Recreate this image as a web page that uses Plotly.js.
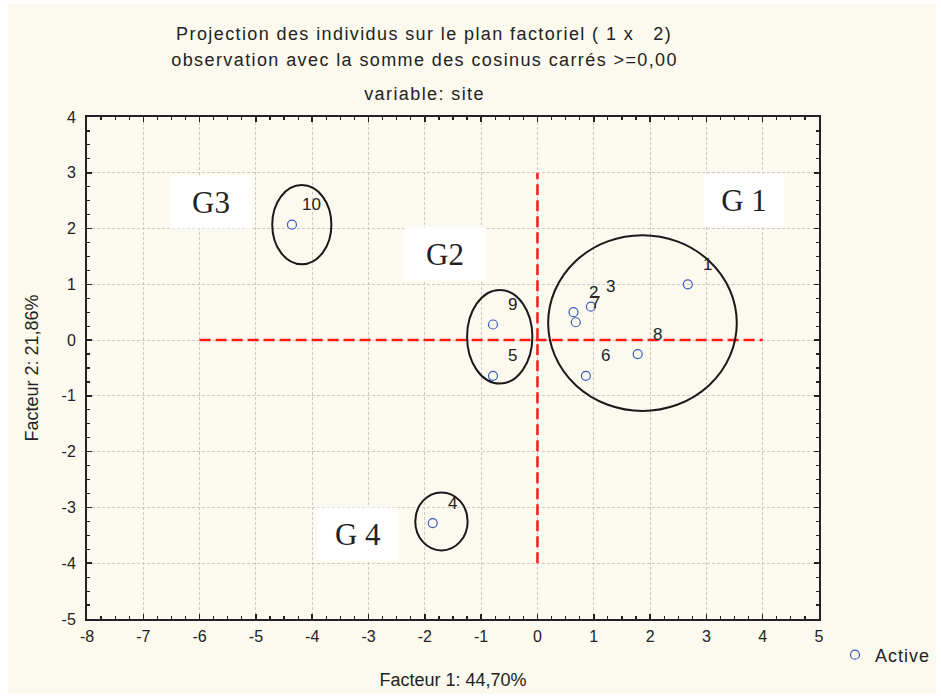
<!DOCTYPE html>
<html><head><meta charset="utf-8">
<script src="https://cdn.plot.ly/plotly-3.0.1.min.js"></script>
<style>
html,body{margin:0;padding:0;background:#fff}#chart{width:941px;height:698px}
.annotation[data-index="0"] text,.annotation[data-index="1"] text,.annotation[data-index="2"] text{letter-spacing:1.4px}
.legendtext{letter-spacing:1px}
</style>
</head><body><div id="chart"></div>
<script>
// ---- data ----
const pointIds = ['1','2','3','4','5','6','7','8','9','10'];
const factor1 = [2.67, 0.64, 0.95, -1.86, -0.79, 0.86, 0.68, 1.78, -0.79, -4.36];
const factor2 = [1.00, 0.50, 0.60, -3.28, -0.64, -0.64, 0.32, -0.25, 0.28, 2.07];

const groupNames  = ['G 1', 'G2', 'G3', 'G 4'];
const groupLabelX = [3.67, -1.65, -5.79, -3.18];
const groupLabelY = [2.52, 1.55, 2.48, -3.47];
const groupX0 = [0.19, -1.25, -4.71, -2.17];
const groupX1 = [3.54, -0.09, -3.66, -1.24];
const groupY0 = [-1.27, -0.78, 1.36, -3.77];
const groupY1 = [1.88, 0.90, 2.78, -2.73];

const refHorizX = [-6, 4];
const refVertY = [-4, 3];

const xTicks = [-8,-7,-6,-5,-4,-3,-2,-1,0,1,2,3,4,5];
const yTicks = [-5,-4,-3,-2,-1,0,1,2,3,4];

const titleLines = [
  'Projection des individus sur le plan factoriel ( 1 x   2)',
  'observation avec la somme des cosinus carrés >=0,00',
  'variable: site'
];
const xTitle = 'Facteur 1: 44,70%';
const yTitle = 'Facteur 2: 21,86%';

// ---- chart ----
const FONT = 'Liberation Sans, Arial, sans-serif';
const SERIF = 'Liberation Serif, Times New Roman, serif';
const INK = '#222';

const traces = [{
  x: factor1, y: factor2, type: 'scatter', mode: 'markers', name: 'Active',
  marker: {symbol: 'circle-open', size: 9, color: '#3d5cc0', line: {width: 1.2, color: '#3d5cc0'}},
  hoverinfo: 'skip'
}];

const shapes = [];
// cream card
shapes.push({type:'rect', xref:'paper', yref:'paper', layer:'below',
  x0: (8-87)/732, x1: (936-87)/732, y0: (619-694)/502, y1: (619-4)/502,
  fillcolor:'#fcf9ee', line:{width:0}});
// reference dashed lines
shapes.push({type:'line', xref:'x', yref:'y', x0: refHorizX[0], x1: refHorizX[1], y0: 0, y1: 0,
  line:{color:'#ff1a1a', width:2.5, dash:'11px,5px'}});
shapes.push({type:'line', xref:'x', yref:'y', x0: 0, x1: 0, y0: refVertY[0], y1: refVertY[1],
  line:{color:'#ff1a1a', width:2.5, dash:'11px,5px'}});
// group ellipses
for (let i = 0; i < groupNames.length; i++) {
  shapes.push({type:'circle', xref:'x', yref:'y', x0: groupX0[i], x1: groupX1[i], y0: groupY0[i], y1: groupY1[i],
    line:{color:'#1a1a1a', width:2}, fillcolor:'rgba(0,0,0,0)'});
}

const annotations = [];
titleLines.forEach((t, i) => {
  annotations.push({text: t, xref:'paper', yref:'paper', x: (424-87)/732, y: (619-[34,60,94][i])/502,
    showarrow:false, xanchor:'center', yanchor:'middle', font:{family:FONT, size:18, color:INK}});
});
for (let i = 0; i < pointIds.length; i++) {
  annotations.push({text: pointIds[i], x: factor1[i], y: factor2[i], xref:'x', yref:'y',
    xshift: 20, yshift: 20, showarrow:false, xanchor:'center', yanchor:'middle',
    font:{family:FONT, size:17, color:INK}});
}
for (let i = 0; i < groupNames.length; i++) {
  annotations.push({text: groupNames[i], x: groupLabelX[i], y: groupLabelY[i], xref:'x', yref:'y',
    showarrow:false, xanchor:'center', yanchor:'middle', bgcolor:'#ffffff', width: 78, height: 50,
    font:{family:SERIF, size:31, color:INK}});
}

const axisCommon = {
  showline:true, linecolor:'#222', linewidth:2, mirror:'ticks',
  ticks:'inside', ticklen:5, tickwidth:1.5, tickcolor:'#222',
  showgrid:true, gridcolor:'#c9c9c9', gridwidth:1, griddash:'3px,2px',
  zeroline:false, tickfont:{family:FONT, size:16, color:INK},
  minor:{dtick:0.25, ticks:'inside', ticklen:3, tickwidth:1.2, tickcolor:'#222', showgrid:false}
};

const layout = {
  width: 941, height: 698,
  margin: {l:87, r:122, t:117, b:79, pad:0},
  paper_bgcolor:'#ffffff', plot_bgcolor:'#ffffff',
  showlegend: true,
  legend: {xref:'container', yref:'container', x: 835/941, y: (698-655)/698, xanchor:'left', yanchor:'middle',
    bgcolor:'rgba(0,0,0,0)', font:{family:FONT, size:18, color:INK}},
  xaxis: Object.assign({}, axisCommon, {range:[-8,5], tickvals:xTicks, ticktext:xTicks.map(String),
    ticklabelstandoff: 2,
    title:{text:xTitle, standoff:29, font:{family:FONT, size:18, color:INK}}}),
  yaxis: Object.assign({}, axisCommon, {range:[-5,4], tickvals:yTicks, ticktext:yTicks.map(String),
    ticklabelstandoff: 6,
    title:{text:yTitle, standoff:18, font:{family:FONT, size:18, color:INK}}}),
  shapes: shapes,
  annotations: annotations
};

Plotly.newPlot('chart', traces, layout, {displayModeBar:false, staticPlot:true});
</script></body></html>
